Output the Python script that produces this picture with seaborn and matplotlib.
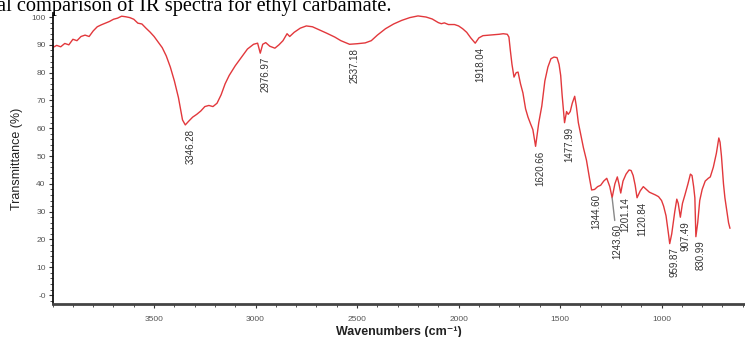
import matplotlib
matplotlib.use("Agg")
import matplotlib.pyplot as plt
from matplotlib.ticker import MultipleLocator
import numpy as np
import pandas as pd
import seaborn as sns

# IR spectrum of ethyl carbamate: wavenumber (cm-1) vs transmittance (%)
wavenumber = [
    4000, 3980, 3960, 3940, 3920, 3900, 3880, 3860, 3840, 3820, 3800, 3780,
    3760, 3740, 3720, 3700, 3680, 3660, 3640, 3620, 3600, 3580, 3560, 3540,
    3520, 3500, 3480, 3460, 3440, 3420, 3400, 3380, 3360, 3346.28, 3330, 3310,
    3290, 3270, 3250, 3230, 3210, 3190, 3170, 3150, 3130, 3100, 3070, 3040,
    3010, 2990, 2976.97, 2965, 2950, 2930, 2905, 2885, 2865, 2845, 2832, 2810,
    2780, 2750, 2720, 2690, 2650, 2610, 2580, 2537.18, 2500, 2460, 2430, 2400,
    2360, 2320, 2280, 2240, 2200, 2160, 2130, 2100, 2085, 2070, 2050, 2020,
    2000, 1980, 1960, 1940, 1918.04, 1900, 1880, 1860, 1830, 1800, 1780, 1760,
    1752, 1745, 1737, 1727, 1716, 1707, 1695, 1683, 1670, 1658, 1645, 1634,
    1620.66, 1605, 1590, 1575, 1560, 1545, 1530, 1515, 1505, 1497, 1490,
    1477.99, 1468, 1460, 1450, 1440, 1428, 1420, 1410, 1400, 1385, 1370, 1355,
    1344.60, 1330, 1315, 1300, 1285, 1270, 1255, 1243.60, 1230, 1218, 1210,
    1201.14, 1190, 1175, 1160, 1150, 1140, 1130, 1120.84, 1105, 1090, 1075,
    1060, 1045, 1030, 1015, 1000, 990, 978, 966, 959.87, 950, 935, 925, 918,
    907.49, 897, 885, 870, 858, 850, 842, 836, 830.99, 822, 812, 800, 785, 770,
    760, 745, 730, 718, 712, 705, 695, 688, 680, 670, 663,
]
transmittance = [
    89.0, 89.8, 89.3, 90.5, 90.0, 92.0, 91.5, 93.0, 93.5, 93.0, 95.0, 96.5,
    97.2, 97.8, 98.4, 99.2, 99.6, 100.3, 100.1, 99.8, 99.2, 97.8, 97.5, 96.0,
    94.6, 93.0, 91.0, 89.0, 86.0, 82.0, 77.0, 71.0, 63.0, 61.2, 62.5, 64.0,
    65.0, 66.2, 67.8, 68.2, 67.8, 69.0, 72.0, 76.0, 79.0, 82.5, 85.5, 88.5,
    90.2, 90.6, 87.0, 90.2, 90.8, 89.5, 88.8, 90.0, 91.5, 94.0, 93.0, 94.5,
    96.0, 96.8, 96.5, 95.5, 94.2, 92.8, 91.5, 90.2, 90.4, 90.7, 91.5, 93.5,
    95.8, 97.5, 98.8, 99.8, 100.4, 100.0, 99.3, 98.0, 97.6, 97.9, 97.3, 97.3,
    96.8, 95.8, 94.5, 92.5, 90.6, 92.5, 93.3, 93.4, 93.6, 93.8, 94.0, 93.8,
    92.8, 88.0, 83.0, 78.4, 80.0, 80.2, 76.0, 72.7, 67.0, 64.0, 61.5, 59.5,
    53.5, 62.0, 68.0, 77.0, 82.0, 85.0, 85.6, 85.4, 83.0, 79.0, 72.0,
    62.0, 66.0, 65.0, 66.0, 69.0, 71.5, 68.0, 62.0, 58.5, 53.0, 48.5, 42.0,
    37.8, 38.0, 39.0, 39.5, 41.0, 42.0, 39.0, 35.0, 40.0, 42.5, 40.0,
    36.7, 41.0, 43.5, 45.0, 44.8, 43.0, 39.5, 35.0, 37.5, 39.0, 38.0,
    37.0, 36.5, 36.0, 35.4, 34.0, 32.0, 28.5, 22.0, 18.5, 22.0, 30.0, 34.5, 33.0,
    28.0, 33.0, 36.0, 40.0, 43.5, 43.0, 39.0, 35.0, 21.0, 26.0, 34.0, 38.0, 41.0,
    42.0, 42.5, 46.0, 51.0, 56.5, 55.0, 50.0, 40.0, 35.0, 31.0, 26.0, 24.0,
]

# Labelled absorption bands
peak_labels = ["3346.28", "2976.97", "2537.18", "1918.04", "1620.66", "1477.99",
               "1344.60", "1243.60", "1201.14", "1120.84", "959.87", "907.49",
               "830.99"]

x_ticks = [3500, 3000, 2500, 2000, 1500, 1000]
y_ticks = [0, 10, 20, 30, 40, 50, 60, 70, 80, 90, 100]
y_tick_labels = ["-0", "10", "20", "30", "40", "50", "60", "70", "80", "90", "100"]

spectrum = pd.DataFrame({"wavenumber": wavenumber, "transmittance": transmittance})
lookup = dict(zip(wavenumber, transmittance))

sns.set_theme(style="white")
plt.rcParams["font.family"] = ["Liberation Sans", "DejaVu Sans"]

fig = plt.figure(figsize=(7.45, 3.37), dpi=100)
ax = fig.add_axes([0.0706, 0.098, 0.9294, 0.863])

sns.lineplot(data=spectrum, x="wavenumber", y="transmittance", ax=ax,
             color="#e2383c", linewidth=1.0)

ax.set_xlim(4000, 589)
ax.set_ylim(-3.2, 101.4)

ax.set_xticks(x_ticks)
ax.set_xticklabels([str(t) for t in x_ticks])
ax.xaxis.set_minor_locator(MultipleLocator(100))
ax.set_yticks(y_ticks)
ax.set_yticklabels(y_tick_labels)
ax.yaxis.set_minor_locator(MultipleLocator(2))

ax.tick_params(axis="both", which="major", direction="out", length=3, width=0.8,
               labelsize=6, colors="#333333", bottom=True, left=True)
ax.tick_params(axis="x", which="major", pad=6)
ax.tick_params(axis="y", which="major", pad=2)
ax.tick_params(axis="both", which="minor", direction="out", length=2, width=0.6,
               colors="#333333", bottom=True, left=True)
for lbl in ax.get_xticklabels() + ax.get_yticklabels():
    lbl.set_color("#555555")

for side in ("top", "right"):
    ax.spines[side].set_visible(False)
ax.spines["left"].set_color("#111111")
ax.spines["left"].set_linewidth(1.3)
ax.spines["bottom"].set_color("#444444")
ax.spines["bottom"].set_linewidth(2.0)

ax.set_xlabel("Wavenumbers (cm\u207b\u00b9)", fontsize=9, fontweight="bold",
              color="#222222", labelpad=2)
ax.set_ylabel("Transmittance (%)", fontsize=9, color="#222222", labelpad=6)

# Peak labels hanging below each band
for lab in peak_labels:
    wn = float(lab)
    key = min(lookup, key=lambda k: abs(k - wn))
    t = lookup[key]
    if lab == "1243.60":
        ax.annotate(lab, xy=(wn, t), xytext=(5, -26), textcoords="offset pixels",
                    rotation=90, ha="center", va="top", fontsize=7, color="#333333",
                    arrowprops=dict(arrowstyle="-", color="#888888", lw=1.0,
                                    shrinkA=0, shrinkB=0))
    else:
        ax.annotate(lab, xy=(wn, t), xytext=(5, -4), textcoords="offset pixels",
                    rotation=90, ha="center", va="top", fontsize=7, color="#333333")

# Caption line running along the top edge
fig.text(-0.004, 1 - 11 / 337, "al comparison of IR spectra for ethyl carbamate.",
         fontsize=14.7, family=["Liberation Serif", "DejaVu Serif"], color="black",
         ha="left", va="baseline")

fig.savefig("out.png", dpi=100)
